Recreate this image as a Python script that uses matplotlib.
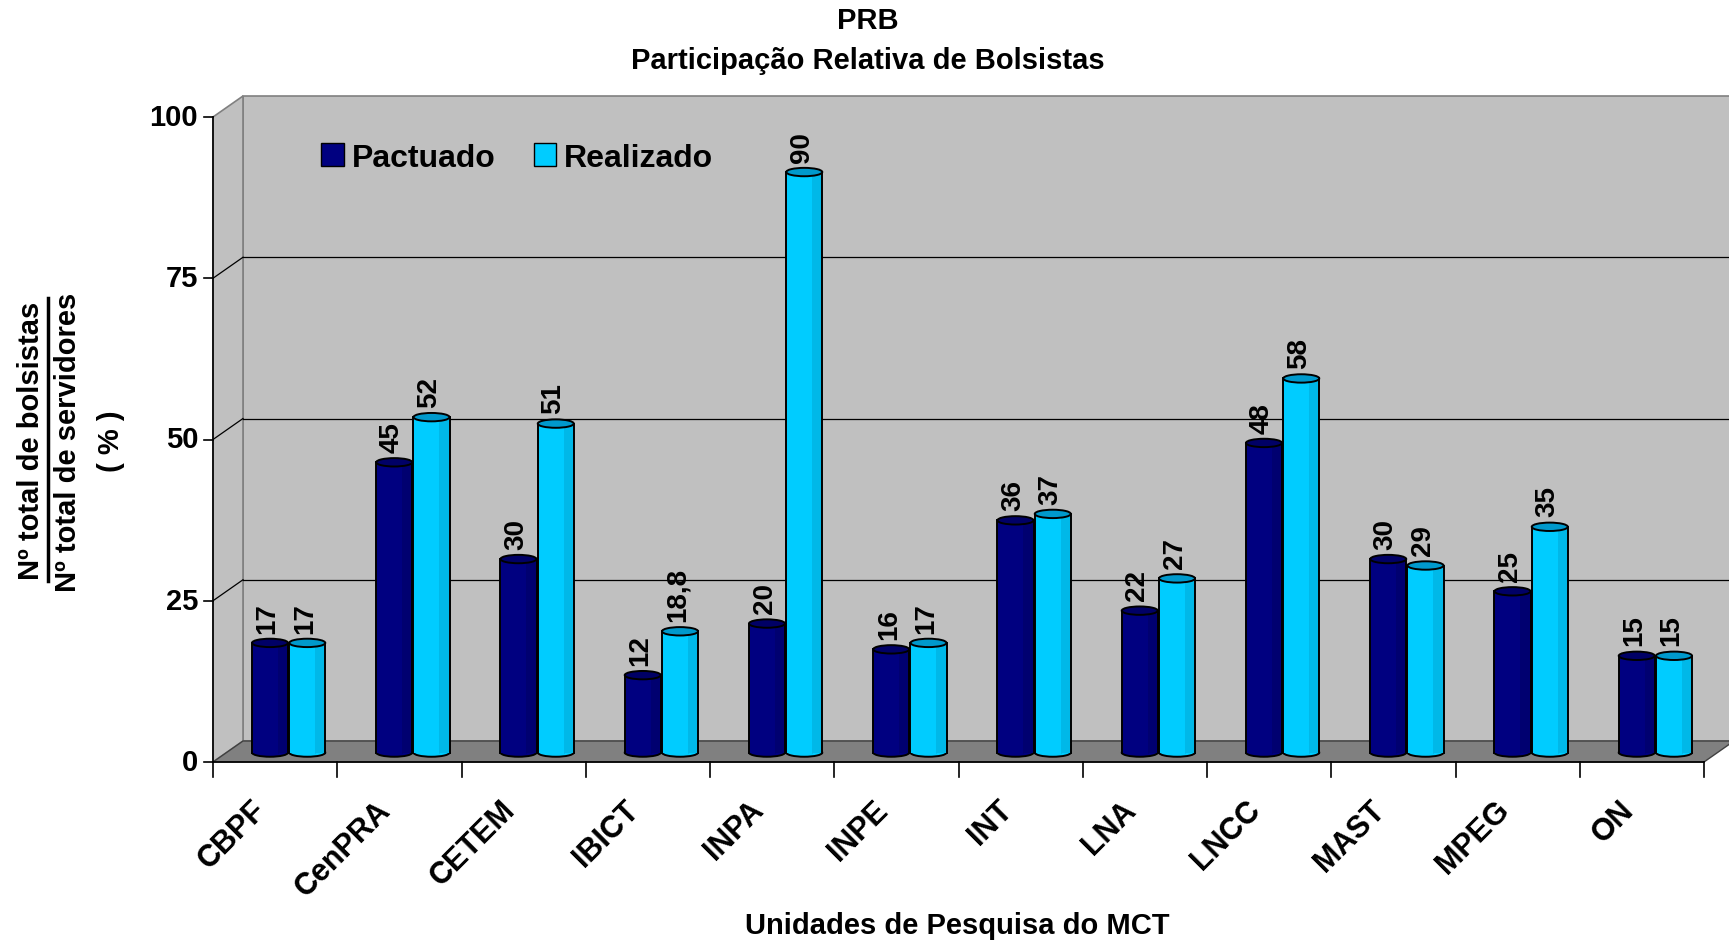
import numpy as np
import matplotlib.pyplot as plt
from matplotlib.patches import Polygon, Rectangle, Ellipse, Patch
from matplotlib.lines import Line2D

plt.rcParams['font.family'] = ['Liberation Sans', 'DejaVu Sans']

# dados
unidades = ["CBPF", "CenPRA", "CETEM", "IBICT", "INPA", "INPE",
            "INT", "LNA", "LNCC", "MAST", "MPEG", "ON"]
pactuado = [17, 45, 30, 12, 20, 16, 36, 22, 48, 30, 25, 15]
realizado = [17, 52, 51, 18.8, 90, 17, 37, 27, 58, 29, 35, 15]
yticks = [0, 25, 50, 75, 100]

W, H = 1729, 945
fig = plt.figure(figsize=(W / 100, H / 100), dpi=100)
fig.patch.set_facecolor("white")
# front plane of the 3d box
ax = fig.add_axes([213 / W, (H - 763) / H, 1491 / W, 645 / H])
n = len(unidades)
ax.set_xlim(0, n)
ax.set_ylim(0, 100)
ax.axis("off")

# depth offset (data units)
ddx = 30 / (1491 / n)
ddy = 21 / 6.45

# back wall, left wall, floor
ax.add_patch(Polygon([(ddx, ddy), (n + ddx, ddy), (n + ddx, 100 + ddy), (ddx, 100 + ddy)],
                     closed=True, fc="#C0C0C0", ec="#808080", lw=1.2, clip_on=False, zorder=0))
ax.add_patch(Polygon([(0, 0), (ddx, ddy), (ddx, 100 + ddy), (0, 100)],
                     closed=True, fc="#C0C0C0", ec="#808080", lw=1.2, clip_on=False, zorder=0))
ax.add_patch(Polygon([(0, 0), (n, 0), (n + ddx, ddy), (ddx, ddy)],
                     closed=True, fc="#808080", ec="#404040", lw=1.0, clip_on=False, zorder=1))

# gridlines
for v in yticks[1:-1]:
    ax.plot([ddx, n + ddx], [v + ddy, v + ddy], color="black", lw=0.9, clip_on=False, zorder=0.5)
    ax.plot([0, ddx], [v, v + ddy], color="black", lw=0.9, clip_on=False, zorder=0.5)

# axes lines and ticks
ax.plot([0, 0], [0, 100], color="black", lw=1.2, clip_on=False, zorder=5)
ax.plot([0, n], [0, 0], color="black", lw=1.2, clip_on=False, zorder=5)
for v in yticks:
    ax.plot([-0.07, 0], [v, v], color="black", lw=1.2, clip_on=False, zorder=5)
    ax.text(-0.12, v, str(v), ha="right", va="center", fontsize=21, fontweight="bold")
for i in range(n + 1):
    ax.plot([i, i], [0, -2.3], color="black", lw=1.2, clip_on=False, zorder=5)
for i, u in enumerate(unidades):
    ax.text(i + 0.31, -5.0, u, rotation=45, rotation_mode="anchor", ha="right", va="top",
            fontsize=22, fontweight="bold")

# cylinder bars
f = 0.45
bw = 0.29
cap_h = 1.3


def cylinder(xc, val, body, side, cap):
    x0 = xc - bw / 2
    b = f * ddy
    top = b + val
    ax.add_patch(Ellipse((xc, b), bw, cap_h, fc=body, ec="black", lw=1.4, zorder=3, clip_on=False))
    ax.add_patch(Rectangle((x0, b), bw, val, fc=body, ec="none", zorder=3.1, clip_on=False))
    ax.add_patch(Rectangle((x0 + bw * 0.72, b), bw * 0.28, val, fc=side, ec="none", zorder=3.2, clip_on=False))
    ax.plot([x0 + bw * 0.72, x0 + bw * 0.72], [b, top], color=side, lw=0.6, zorder=3.3)
    ax.plot([x0, x0], [b, top], color="black", lw=1.4, zorder=3.4, clip_on=False)
    ax.plot([x0 + bw, x0 + bw], [b, top], color="black", lw=1.4, zorder=3.4, clip_on=False)
    ax.add_patch(Ellipse((xc, top), bw, cap_h, fc=cap, ec="black", lw=1.4, zorder=3.5, clip_on=False))
    lab = ("%g" % val).replace(".", ",")
    ax.text(xc - 0.02, top + 1.6, lab, rotation=90, ha="center", va="bottom",
            fontsize=20, fontweight="bold", zorder=6)


for i in range(n):
    c = i + 0.5 + f * ddx
    cylinder(c - bw / 2 - 0.005, pactuado[i], "#000080", "#000070", "#000066")
    cylinder(c + bw / 2 + 0.005, realizado[i], "#00CCFF", "#00B8E8", "#0099CC")

# legend
ax.legend(handles=[Patch(fc="#000080", ec="black", label="Pactuado"),
                   Patch(fc="#00CCFF", ec="black", label="Realizado")],
          loc="upper left", bbox_to_anchor=(0.062, 0.985), ncol=2, frameon=False,
          prop={"size": 23, "weight": "bold"}, handlelength=0.7, handleheight=0.7,
          handletextpad=0.25, columnspacing=1.2, borderpad=0)

# titles and labels
fig.text(868 / W, 1 - 21 / H, "PRB", ha="center", va="center", fontsize=21, fontweight="bold")
fig.text(868 / W, 1 - 61 / H, "Participação Relativa de Bolsistas", ha="center", va="center",
         fontsize=21, fontweight="bold")
fig.text(957 / W, 1 - 926 / H, "Unidades de Pesquisa do MCT", ha="center", va="center",
         fontsize=21, fontweight="bold")
fig.text(31 / W, 1 - 441 / H, "Nº total de bolsistas", rotation=90, ha="center", va="center",
         fontsize=21, fontweight="bold")
fig.add_artist(Line2D([48 / W, 48 / W], [1 - 299 / H, 1 - 582 / H], color="black", lw=2.5))
fig.text(68 / W, 1 - 442 / H, "Nº total de servidores", rotation=90, ha="center", va="center",
         fontsize=21, fontweight="bold")
fig.text(111 / W, 1 - 441 / H, "( % )", rotation=90, ha="center", va="center",
         fontsize=21, fontweight="bold")

fig.savefig("out.png", dpi=100, facecolor="white")
